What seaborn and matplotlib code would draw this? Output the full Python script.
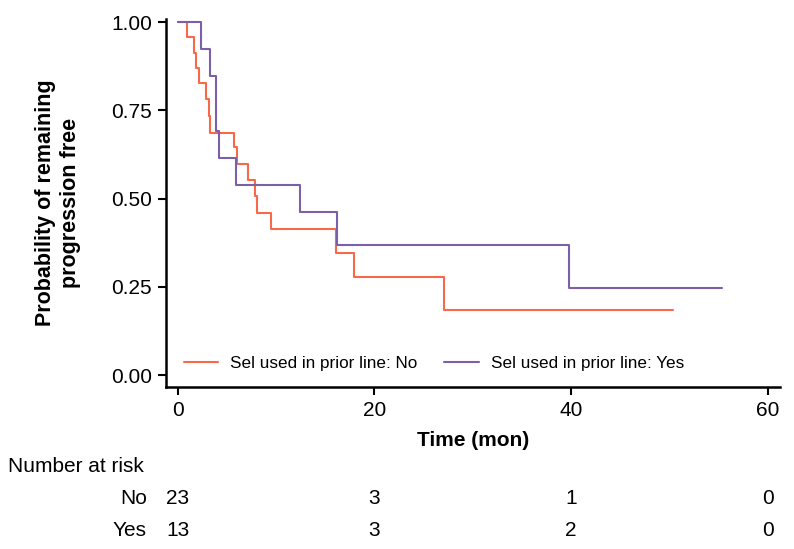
import numpy as np
import pandas as pd
import seaborn as sns
import matplotlib
matplotlib.use("Agg")
import matplotlib.pyplot as plt
import matplotlib.transforms as mtransforms

# ---- data ----
no_time = [0, 0.98, 1.66, 1.83, 2.17, 2.92, 3.19, 3.32, 5.70, 6.03, 7.15, 7.85, 8.1, 9.51, 16.1, 17.9, 27.1, 50.4]
no_surv = [1.0, 0.957, 0.913, 0.870, 0.826, 0.783, 0.735, 0.687, 0.645, 0.598, 0.552, 0.507, 0.460, 0.413, 0.345, 0.277, 0.185, 0.185]
yes_time = [0, 2.34, 3.25, 3.87, 4.2, 5.97, 12.45, 16.15, 39.8, 55.3]
yes_surv = [1.0, 0.923, 0.846, 0.692, 0.615, 0.538, 0.462, 0.369, 0.246, 0.246]
groups = ["Sel used in prior line: No", "Sel used in prior line: Yes"]
risk_times = [0, 20, 40, 60]
risk_labels = ["No", "Yes"]
risk_no = [23, 3, 1, 0]
risk_yes = [13, 3, 2, 0]
colors = ["#F8694A", "#7B5FA8"]

df = pd.concat([
    pd.DataFrame({"time": no_time, "surv": no_surv, "group": groups[0]}),
    pd.DataFrame({"time": yes_time, "surv": yes_surv, "group": groups[1]}),
], ignore_index=True)

sns.set_theme(style="ticks")
plt.rcParams["font.family"] = ["Liberation Sans", "DejaVu Sans"]
plt.rcParams["text.color"] = "black"
plt.rcParams["axes.labelcolor"] = "black"

FS = 15
fig = plt.figure(figsize=(7.94, 5.49), dpi=100)
ax = fig.add_axes([0.209, 0.295, 0.773, 0.670])

sns.lineplot(data=df, x="time", y="surv", hue="group", hue_order=groups,
             palette=colors, drawstyle="steps-post", estimator=None,
             linewidth=1.5, ax=ax)

ax.set_xlim(-1.2, 61.2)
ax.set_ylim(-0.034, 1.008)
ax.set_xticks([0, 20, 40, 60])
ax.set_yticks([0, 0.25, 0.5, 0.75, 1.0])
ax.set_yticklabels(["0.00", "0.25", "0.50", "0.75", "1.00"])
ax.tick_params(axis="both", labelsize=FS, length=6, width=1.5, direction="out",
               colors="black", pad=4)
for s in ["left", "bottom"]:
    ax.spines[s].set_linewidth(1.8)
    ax.spines[s].set_color("black")
sns.despine(ax=ax)

ax.set_xlabel("Time (mon)", fontsize=FS, fontweight="bold", labelpad=8)
ax.set_ylabel("Probability of remaining\nprogression free", fontsize=15.5,
              fontweight="bold", labelpad=22, linespacing=1.25)

leg = ax.legend(loc="center left", bbox_to_anchor=(0.029, 0.065), ncol=2, frameon=False,
                fontsize=12.3, handlelength=2.0, handletextpad=0.7, columnspacing=1.6,
                borderpad=0, borderaxespad=0, title=None)

# risk table
trans = mtransforms.blended_transform_factory(ax.transData, fig.transFigure)
fig.text(8 / 794, 1 - 466 / 549, "Number at risk", fontsize=FS, ha="left", va="center")
rows = [risk_no, risk_yes]
ys = [1 - 498 / 549, 1 - 530 / 549]
for lab, vals, y in zip(risk_labels, rows, ys):
    fig.text(147 / 794, y, lab, fontsize=FS, ha="right", va="center")
    for t, v in zip(risk_times, vals):
        ax.text(t, y, str(v), transform=trans, fontsize=FS, ha="center", va="center",
                clip_on=False)

fig.savefig("out.png", dpi=100)
